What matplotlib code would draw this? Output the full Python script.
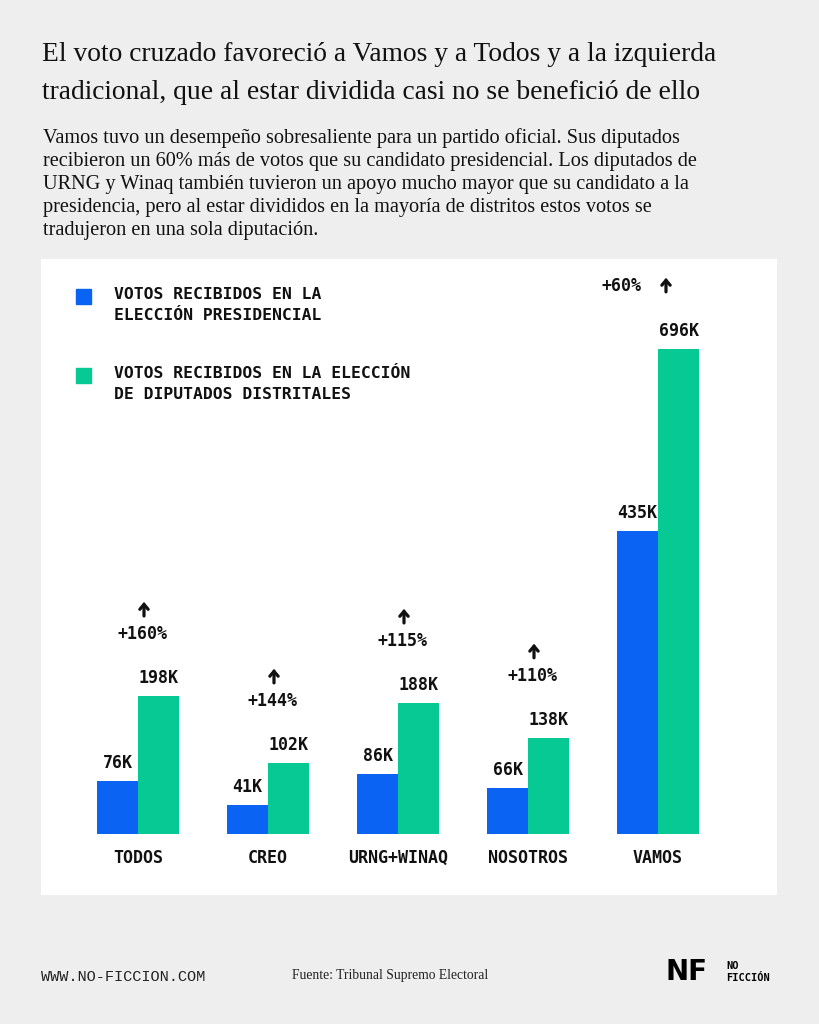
import matplotlib
matplotlib.use("Agg")
import matplotlib.pyplot as plt
from matplotlib.transforms import offset_copy

# ---- data ----
categories = ["TODOS", "CREO", "URNG+WINAQ", "NOSOTROS", "VAMOS"]
presidencial = [76, 41, 86, 66, 435]          # miles de votos
diputados = [198, 102, 188, 138, 696]         # miles de votos
value_labels_pres = ["76K", "41K", "86K", "66K", "435K"]
value_labels_dip = ["198K", "102K", "188K", "138K", "696K"]
pct_labels = ["+160%", "+144%", "+115%", "+110%", "+60%"]
legend_labels = ["VOTOS RECIBIDOS EN LA\nELECCIÓN PRESIDENCIAL",
                 "VOTOS RECIBIDOS EN LA ELECCIÓN\nDE DIPUTADOS DISTRITALES"]

title = ("El voto cruzado favoreció a Vamos y a Todos y a la izquierda\n"
         "tradicional, que al estar dividida casi no se benefició de ello")
subtitle = ("Vamos tuvo un desempeño sobresaliente para un partido oficial. Sus diputados\n"
            "recibieron un 60% más de votos que su candidato presidencial. Los diputados de\n"
            "URNG y Winaq también tuvieron un apoyo mucho mayor que su candidato a la\n"
            "presidencia, pero al estar divididos en la mayoría de distritos estos votos se\n"
            "tradujeron en una sola diputación.")

# ---- style ----
W, H = 819, 1024
BG = "#eeeeee"
BLUE = "#0a63f2"
GREEN = "#07c994"
INK = "#111111"
MONO = "DejaVu Sans Mono"
SERIF = "Liberation Serif"

fig = plt.figure(figsize=(W / 100, H / 100), dpi=100, facecolor=BG)

def fx(px):
    return px / W

def fy(py):
    return 1 - py / H

# title & subtitle
fig.text(fx(42), fy(73.5), title, fontsize=19.8, family=SERIF, va="center",
         ha="left", color=INK, linespacing=1.68)
fig.text(fx(43), fy(184), subtitle, fontsize=14.6, family=SERIF, va="center",
         ha="left", color=INK, linespacing=1.29)

# chart panel
left, right, top, bottom = 41, 777, 259, 895
ax = fig.add_axes([fx(left), fy(bottom), (right - left) / W, (bottom - top) / H])
ax.set_facecolor("white")
for s in ax.spines.values():
    s.set_visible(False)
ax.set_xticks([])
ax.set_yticks([])

px_per_unit = 130.0
x0 = 138.0
ax.set_xlim((left - x0) / px_per_unit, (right - x0) / px_per_unit)
scale = 0.697  # px per K
base = 834
ax.set_ylim(-(bottom - base) / scale, (base - top) / scale)

bw = 41 / px_per_unit
xs = list(range(len(categories)))
ax.bar([x - bw / 2 for x in xs], presidencial, width=bw, color=BLUE)
ax.bar([x + bw / 2 for x in xs], diputados, width=bw, color=GREEN)

lab_kw = dict(family=MONO, fontweight="bold", fontsize=12, color=INK,
              textcoords="offset pixels", ha="center", va="center")
arrow_kw = dict(arrowstyle="->,head_length=0.35,head_width=0.3", lw=2.3,
                color=INK, shrinkA=0, shrinkB=0, joinstyle="miter")

for i, x in enumerate(xs):
    ax.annotate(value_labels_pres[i], (x - bw / 2, presidencial[i]), xytext=(0, 18), **lab_kw)
    ax.annotate(value_labels_dip[i], (x + bw / 2, diputados[i]), xytext=(0, 18), **lab_kw)
    ax.annotate(categories[i], (x, 0), xytext=(0, -24), **lab_kw)
    ymax_px = (base - top) - diputados[i] * scale
    if ymax_px > 100:
        ax.annotate(pct_labels[i], (x, diputados[i]), xytext=(4, 62), **lab_kw)
        adx, ady = 6, 87
    else:
        ax.annotate(pct_labels[i], (x, diputados[i]), xytext=(-36, 63), **lab_kw)
        adx, ady = 8, 64
    tr_tip = offset_copy(ax.transData, fig=fig, x=adx, y=ady + 7, units="dots")
    tr_tail = offset_copy(ax.transData, fig=fig, x=adx, y=ady - 7, units="dots")
    tip = tr_tip.transform((x, diputados[i]))
    tail = tr_tail.transform((x, diputados[i]))
    ax.annotate("", xy=tip, xytext=tail, xycoords="figure pixels",
                textcoords="figure pixels", arrowprops=arrow_kw)

# legend
for (ly, col, lab) in [(296, BLUE, legend_labels[0]), (375, GREEN, legend_labels[1])]:
    fig.patches.append(plt.Rectangle((fx(76), fy(ly + 7.5)), 15 / W, 15 / H,
                                     transform=fig.transFigure, color=col))
    fig.text(fx(114), fy(ly - 9), lab, family=MONO, fontweight="bold", fontsize=11.8,
             color=INK, va="top", ha="left", linespacing=1.5)

# footer
fig.text(fx(41), fy(977), "WWW.NO-FICCION.COM", family="Liberation Mono", fontsize=11,
         color="#222222", va="center", ha="left")
fig.text(fx(292), fy(975), "Fuente: Tribunal Supremo Electoral", family=SERIF,
         fontsize=9.8, color="#222222", va="center", ha="left")
fig.text(fx(665), fy(972), "NF", family="DejaVu Sans", fontweight="heavy", fontsize=20,
         color="black", va="center", ha="left")
fig.text(fx(726), fy(972), "NO\nFICCIÓN", family=MONO, fontweight="bold", fontsize=7.5,
         color="black", va="center", ha="left", linespacing=1.2)

fig.savefig("out.png", dpi=100, facecolor=BG)
